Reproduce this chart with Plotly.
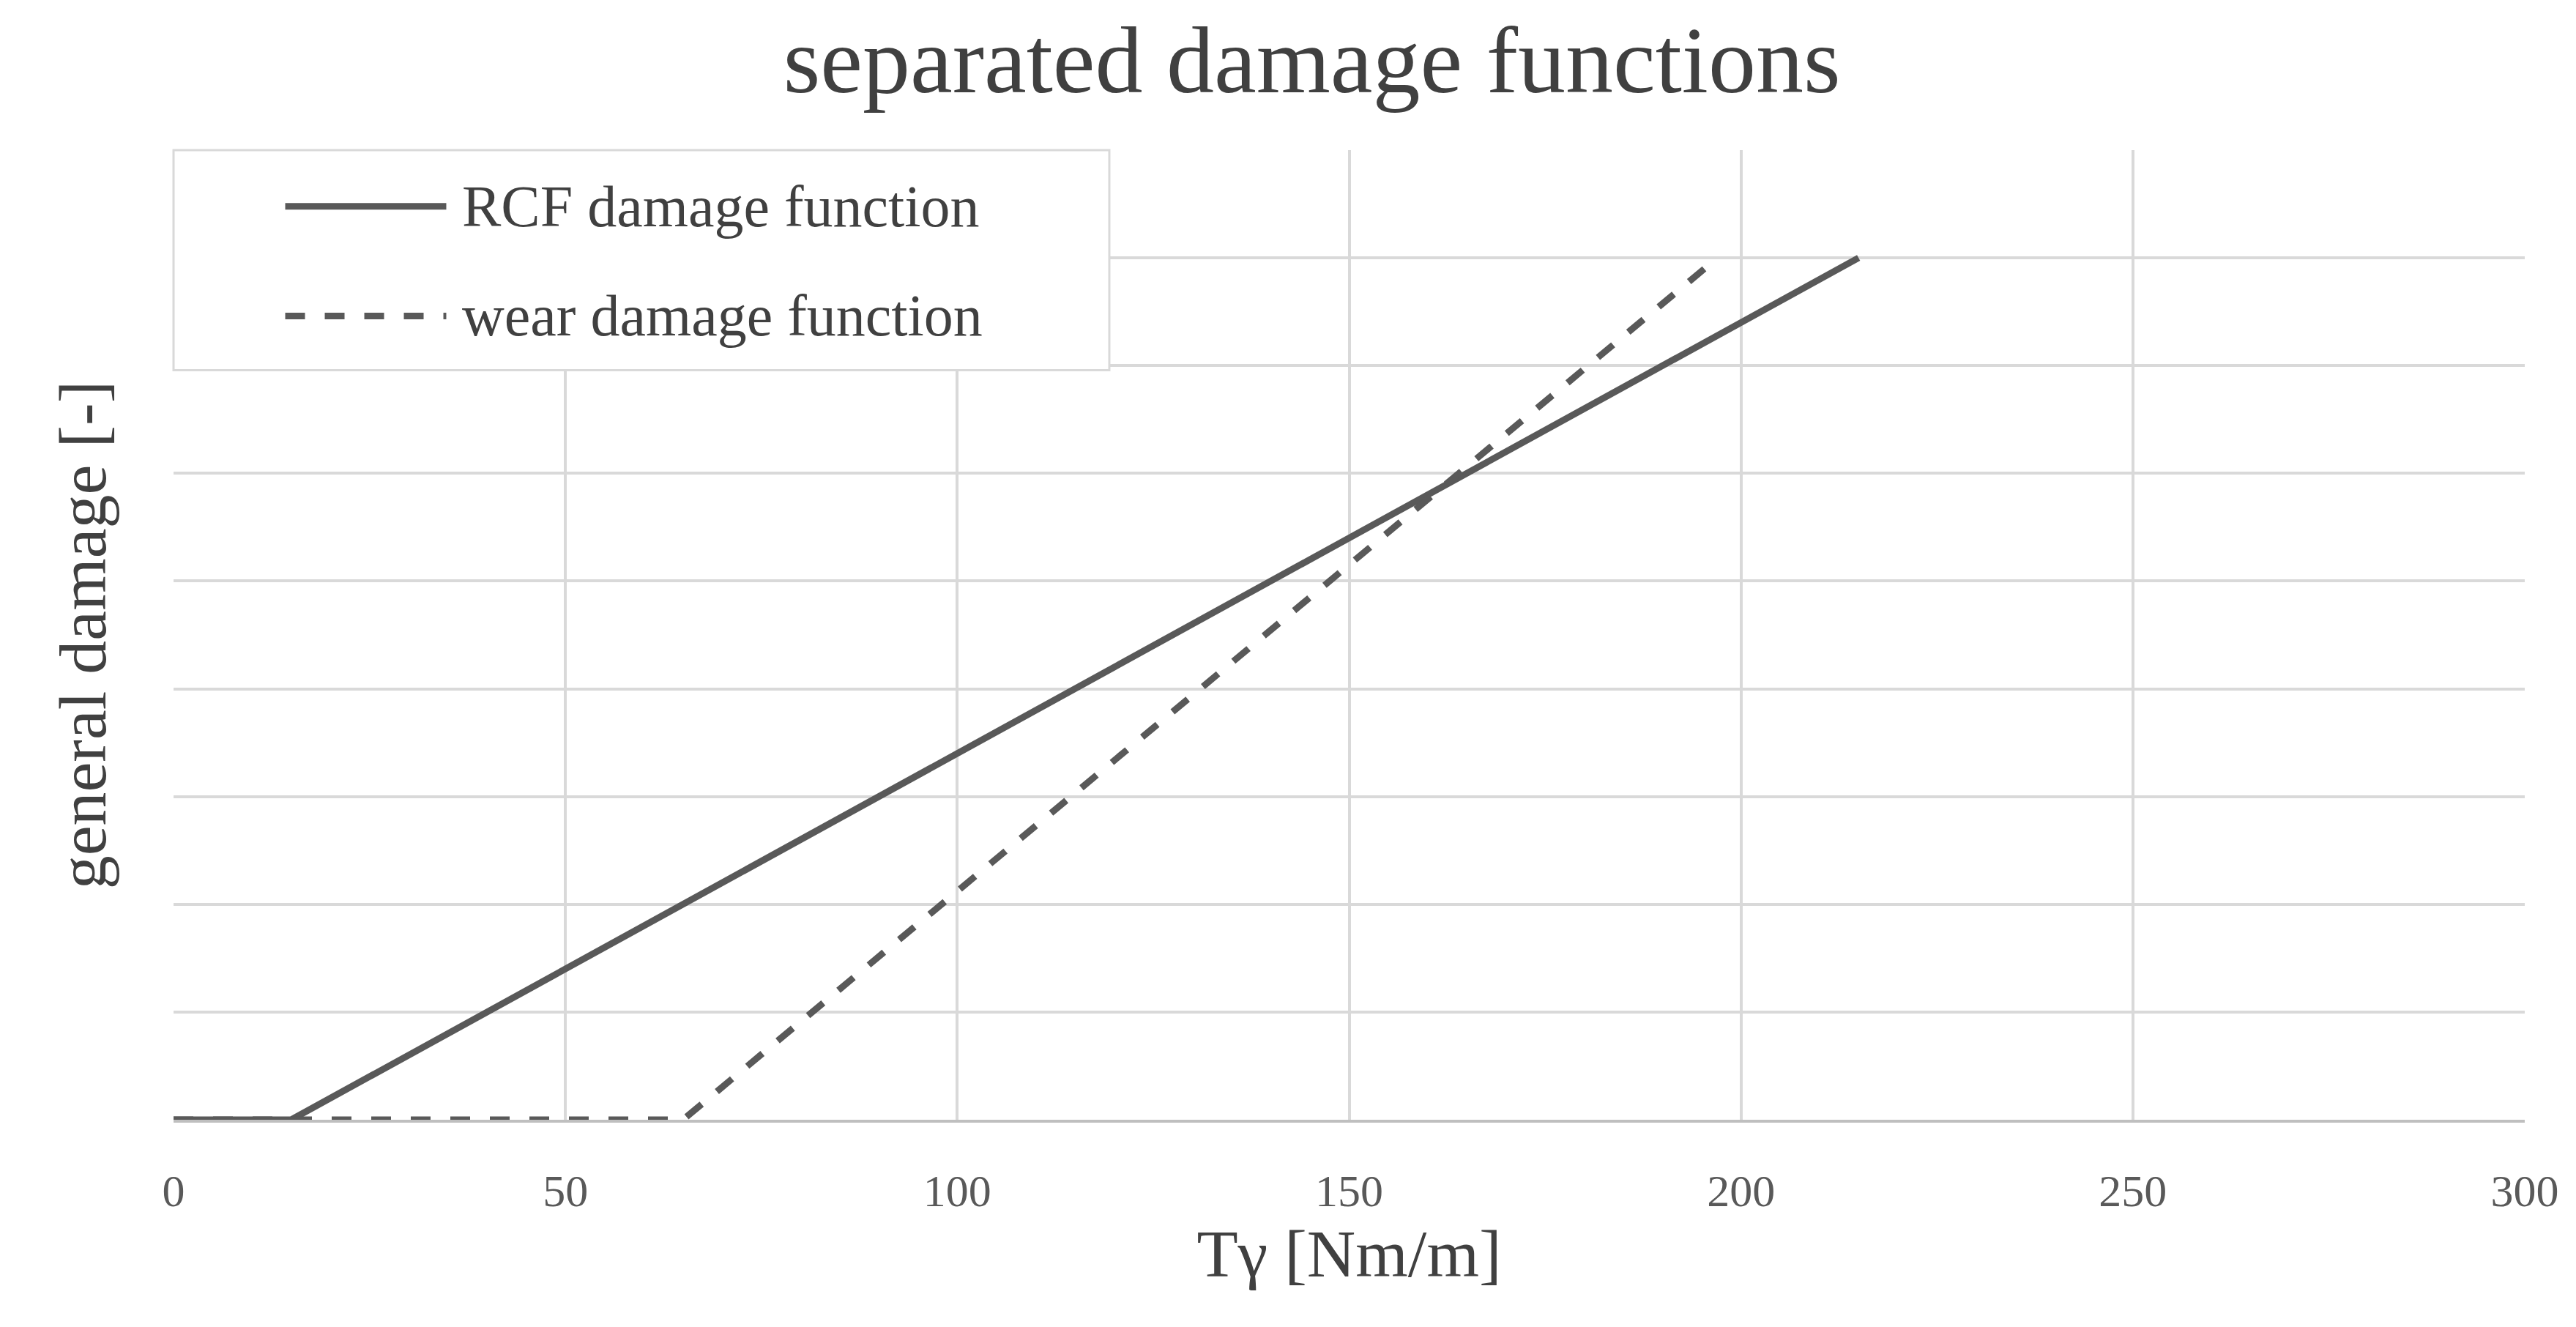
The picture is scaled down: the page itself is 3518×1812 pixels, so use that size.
import plotly.graph_objects as go

rcf_x = [0, 15, 215]
rcf_y = [0, 0, 8]
wear_x = [0, 65, 197]
wear_y = [0, 0, 8]
x_ticks = [0, 50, 100, 150, 200, 250, 300]
legend_names = ["RCF damage function", "wear damage function"]

col = "#595959"
font = "Liberation Serif, DejaVu Serif, serif"

fig = go.Figure()
fig.add_trace(go.Scatter(x=rcf_x, y=rcf_y, mode="lines", name=legend_names[0],
                         line=dict(color=col, width=9)))
fig.add_trace(go.Scatter(x=wear_x, y=wear_y, mode="lines", name=legend_names[1],
                         line=dict(color=col, width=9, dash="dash")))

# custom legend box
fig.add_shape(type="rect", xref="paper", yref="paper", x0=0, x1=0.398, y0=0.773, y1=1,
              fillcolor="white", line=dict(color="#d9d9d9", width=3), layer="above")
for i, (name, dash) in enumerate(zip(legend_names, ["solid", "dash"])):
    yy = [0.942, 0.829][i]
    fig.add_shape(type="line", xref="paper", yref="paper", x0=0.0475, x1=0.116, y0=yy, y1=yy,
                  line=dict(color=col, width=9, dash=dash), layer="above")
    fig.add_annotation(xref="paper", yref="paper", x=0.122, y=yy, xanchor="left", yanchor="middle",
                       text=name, showarrow=False, font=dict(size=80, color="#404040"))

fig.update_layout(
    width=3518, height=1812,
    margin=dict(l=229, r=78, t=197, b=291),
    paper_bgcolor="white", plot_bgcolor="white",
    font=dict(family=font, color="#404040"),
    title=dict(text="separated damage functions", x=0.507, xanchor="center", y=0.985, yanchor="top",
               font=dict(size=130, color="#404040")),
    showlegend=False,
)
fig.update_xaxes(range=[0, 300], tickvals=x_ticks, showgrid=True, gridcolor="#d9d9d9", gridwidth=4,
                 zeroline=False, showline=True, linecolor="#bfbfbf", linewidth=4,
                 ticks="outside", ticklen=40, tickcolor="rgba(0,0,0,0)",
                 tickfont=dict(size=62, color="#595959"),
                 title=dict(text="Tγ [Nm/m]", font=dict(size=92, color="#404040"), standoff=20))
fig.update_yaxes(range=[0, 9], dtick=1, showgrid=True, gridcolor="#d9d9d9", gridwidth=4,
                 zeroline=False, showticklabels=False,
                 title=dict(text="general damage [-]", font=dict(size=92, color="#404040"), standoff=60))

fig.write_html("out.html")
